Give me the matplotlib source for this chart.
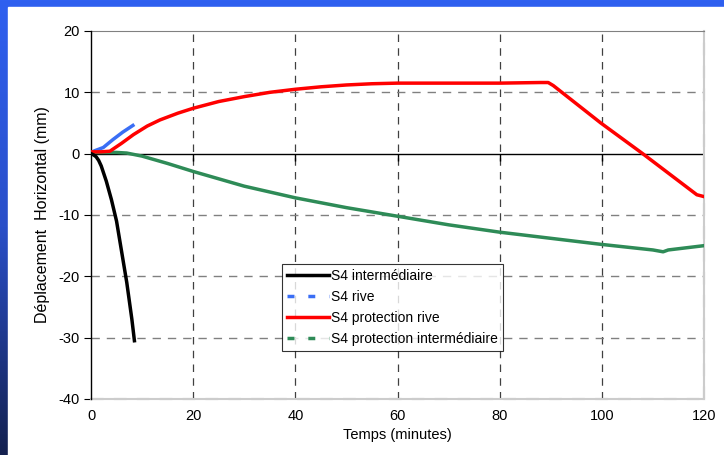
import matplotlib.pyplot as plt
import numpy as np
from matplotlib.lines import Line2D
from matplotlib.patches import Rectangle
from matplotlib.colors import LinearSegmentedColormap

plt.rcParams['font.family'] = ['Liberation Sans', 'DejaVu Sans']
plt.rcParams['axes.unicode_minus'] = False

# data
t_inter = [0, 0.5, 1, 1.5, 2, 3, 4, 5, 6, 7, 8, 8.5]
d_inter = [0, -0.2, -0.5, -1.1, -2, -4.5, -7.5, -11, -16, -21, -27, -30.5]

t_rive = [0, 0.8, 2.4, 4.3, 6.2, 8.2]
d_rive = [0.2, 0.5, 1.0, 2.3, 3.5, 4.6]

t_prot_rive = [0, 2, 3.7, 6, 8.3, 11, 13.5, 17, 20, 25, 30, 35, 40, 45, 50, 55, 60, 70, 80, 88, 89.5, 90.5,
               99.8, 108, 118.6, 120]
d_prot_rive = [0.3, 0.3, 0.4, 1.7, 3.1, 4.5, 5.5, 6.6, 7.4, 8.5, 9.3, 10.0, 10.5, 10.9, 11.2, 11.4, 11.5,
               11.5, 11.5, 11.6, 11.6, 11.1, 5.0, 0, -6.7, -7.0]

t_prot_inter = [0, 5, 7, 10, 15, 20, 25, 30, 40, 50, 60, 70, 80, 90, 100, 110, 112, 113, 116, 120]
d_prot_inter = [0.2, 0.2, 0.1, -0.4, -1.6, -2.9, -4.1, -5.3, -7.2, -8.8, -10.2, -11.6, -12.8, -13.8, -14.8,
                -15.7, -16.0, -15.7, -15.4, -15.0]

x_ticks = [0, 20, 40, 60, 80, 100, 120]
y_ticks = [-40, -30, -20, -10, 0, 10, 20]

fig = plt.figure(figsize=(7.24, 4.55), dpi=100)

# slide background: blue frame with gradient on the left
bg = fig.add_axes([0, 0, 1, 1], zorder=-2)
grad = np.linspace(0, 1, 256).reshape(-1, 1)
cmap = LinearSegmentedColormap.from_list('slide', ['#2f60f0', '#2a4fc8', '#14214f'])
bg.imshow(grad, aspect='auto', cmap=cmap, extent=[0, 1, 0, 1], origin='upper')
bg.add_patch(Rectangle((8 / 724, 0), 1, 1 - 7 / 455, color='white'))
bg.set_xlim(0, 1)
bg.set_ylim(0, 1)
bg.axis('off')

ax = fig.add_axes([91 / 724, 1 - 399 / 455, 613 / 724, 368 / 455])
ax.set_xlim(0, 120)
ax.set_ylim(-40, 20)

# grid
for x in x_ticks[1:-1]:
    ax.axvline(x, color='#404040', lw=0.9, ls=(0, (6, 5)), zorder=1)
ax.axvline(120, color='#808080', lw=1.5, ls=(0, (6, 5)), zorder=1, clip_on=False)
for y in y_ticks[1:4] + [10]:
    ax.axhline(y, color='#808080', lw=1.0, ls=(0, (6, 5)), zorder=1)
ax.axhline(-40, color='#808080', lw=1.5, ls=(0, (6, 5)), zorder=1, clip_on=False)

ax.spines['top'].set_color('#808080')
ax.spines['right'].set_color('#cccccc')
ax.spines['bottom'].set_color('#cccccc')
ax.spines['right'].set_linewidth(1.5)
ax.spines['bottom'].set_linewidth(1.5)
ax.spines['left'].set_color('black')
ax.spines['left'].set_linewidth(1.0)
ax.spines['left'].set_zorder(3)

# x axis line through 0
ax.axhline(0, color='black', lw=1.0, zorder=2)

ax.plot(t_inter, d_inter, color='black', lw=2.5, zorder=5)
ax.plot(t_rive, d_rive, color='#3a6ef5', lw=2.5, zorder=4)
ax.plot(t_prot_rive, d_prot_rive, color='#ff0000', lw=2.5, zorder=4)
ax.plot(t_prot_inter, d_prot_inter, color='#2e8b57', lw=2.5, zorder=3)

ax.set_yticks(y_ticks)
ax.set_xticks(x_ticks)
ax.tick_params(axis='y', direction='out', length=5, labelsize=10.5, pad=3)
ax.tick_params(axis='x', length=0, labelsize=10.5, pad=7)
ax.set_xlabel('Temps (minutes)', fontsize=10.5, labelpad=4)
ax.set_ylabel('Déplacement  Horizontal (mm)', fontsize=11.5, labelpad=6)

# small tick marks below the zero line
ax.plot(x_ticks[1:-1], [0] * 5, ls='none', marker=3, color='black', ms=5, mew=1.0, zorder=2)

handles = [
    Line2D([], [], color='black', lw=2.5),
    Line2D([], [], color='#3a6ef5', lw=2.5, ls=(0, (2, 4))),
    Line2D([], [], color='#ff0000', lw=2.5),
    Line2D([], [], color='#2e8b57', lw=2.5, ls=(0, (2, 4))),
]
labels = ['S4 intermédiaire', 'S4 rive', 'S4 protection rive', 'S4 protection intermédiaire']
leg = ax.legend(handles, labels, loc='upper left', bbox_to_anchor=(191 / 613, 1 - 233 / 368),
                fontsize=10, frameon=True, fancybox=False, edgecolor='black',
                handlelength=3.0, handletextpad=0.2, borderpad=0.35, labelspacing=0.5,
                borderaxespad=0)
leg.get_frame().set_linewidth(0.8)

fig.savefig('out.png', dpi=100)
